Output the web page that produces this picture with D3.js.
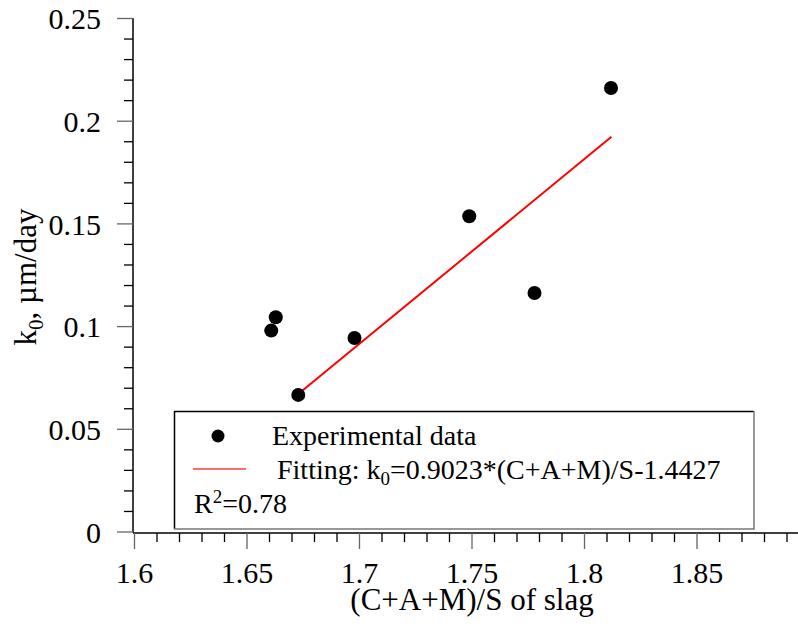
<!doctype html>
<html>
<head>
<meta charset="utf-8">
<script src="https://d3js.org/d3.v7.min.js"></script>
<style>
  body { margin: 0; background: #fff; }
</style>
</head>
<body>
<svg width="798" height="628" id="chart" font-family="Liberation Serif"></svg>
<script>
// measured points
var ratio = [1.661, 1.663, 1.673, 1.698, 1.749, 1.778, 1.812];
var k0    = [0.0978, 0.1043, 0.0665, 0.0942, 0.1535, 0.1161, 0.2159];

// fitted line end points
var fitRatio = [1.673, 1.8122];
var fitK0    = [0.0669, 0.1922];

// ticks
var xMajor = [1.6, 1.65, 1.7, 1.75, 1.8, 1.85];
var xLabels = ["1.6", "1.65", "1.7", "1.75", "1.8", "1.85"];
var yMajor = [0, 0.05, 0.1, 0.15, 0.2, 0.25];
var yLabels = ["0", "0.05", "0.1", "0.15", "0.2", "0.25"];

var serif = "Liberation Serif";

var svg = d3.select("#chart");

var xScale = d3.scaleLinear().domain([1.6, 1.9]).range([134, 809]),
    yScale = d3.scaleLinear().domain([0, 0.25]).range([531.5, 18]);

var xMinor = d3.range(1.61, 1.895, 0.01).filter(function (v) {
    return Math.abs(Math.round(v * 20) - v * 20) > 0.01;
});
var yMinor = d3.range(0.01, 0.25, 0.01).filter(function (v) {
    return Math.abs(Math.round(v * 20) - v * 20) > 0.01;
});

// Y axis
var yAxis = svg.append("g").attr("transform", "translate(133,0)");
yAxis.append("line")
    .attr("x1", 0).attr("x2", 0)
    .attr("y1", yScale(0.25)).attr("y2", yScale(0) + 1)
    .attr("stroke", "#000").attr("stroke-width", 1.5);
yAxis.append("g")
    .call(d3.axisLeft(yScale).tickValues(yMinor).tickSize(9).tickFormat(""))
    .call(function (g) { g.select(".domain").remove(); })
    .selectAll("line").attr("stroke", "#000").attr("stroke-width", 1.3);
var yMaj = yAxis.append("g")
    .call(d3.axisLeft(yScale).tickValues(yMajor).tickSize(16).tickPadding(16)
        .tickFormat(function (d, i) { return yLabels[i]; }))
    .call(function (g) { g.select(".domain").remove(); });
yMaj.attr("font-family", serif).attr("font-size", 30);
yMaj.selectAll("line").attr("stroke", "#666").attr("stroke-width", 1.3);
yMaj.selectAll("text")
    .attr("font-family", serif).attr("font-size", 30)
    .attr("dy", "0.36em");

// X axis
var xAxis = svg.append("g").attr("transform", "translate(0,533)");
xAxis.append("line")
    .attr("x1", 133).attr("x2", 798)
    .attr("y1", 0).attr("y2", 0)
    .attr("stroke", "#000").attr("stroke-width", 1.5);
xAxis.append("g")
    .call(d3.axisBottom(xScale).tickValues(xMinor).tickSize(9).tickFormat(""))
    .call(function (g) { g.select(".domain").remove(); })
    .selectAll("line").attr("stroke", "#000").attr("stroke-width", 1.3);
var xMaj = xAxis.append("g")
    .call(d3.axisBottom(xScale).tickValues(xMajor).tickSize(16).tickPadding(8)
        .tickFormat(function (d, i) { return xLabels[i]; }))
    .call(function (g) { g.select(".domain").remove(); });
xMaj.attr("font-family", serif).attr("font-size", 30);
xMaj.selectAll("line").attr("stroke", "#666").attr("stroke-width", 1.3);
xMaj.selectAll("text")
    .attr("font-family", serif).attr("font-size", 30)
    .attr("y", 50).attr("dy", 0);

// axis titles
svg.append("text")
    .attr("x", 472).attr("y", 610)
    .attr("text-anchor", "middle")
    .attr("font-family", serif)
    .attr("font-size", 31)
    .text("(C+A+M)/S of slag");

var yTitle = svg.append("text")
    .attr("text-anchor", "middle")
    .attr("transform", "translate(36,277)rotate(-90)")
    .attr("font-family", serif)
    .attr("font-size", 31);
yTitle.append("tspan").text("k");
yTitle.append("tspan").attr("dy", 7).attr("font-size", 21).text("0");
yTitle.append("tspan").attr("dy", -7).text(", \u00b5m/day");

// fitted line
var line = d3.line()
    .x(function (d) { return xScale(d[0]); })
    .y(function (d) { return yScale(d[1]); });
svg.append("path")
    .datum(d3.zip(fitRatio, fitK0))
    .attr("d", line)
    .attr("fill", "none")
    .attr("stroke", "#ff0000")
    .attr("stroke-width", 2);

// points
svg.append("g")
    .selectAll("circle")
    .data(d3.zip(ratio, k0))
    .enter()
    .append("circle")
    .attr("cx", function (d) { return xScale(d[0]); })
    .attr("cy", function (d) { return yScale(d[1]); })
    .attr("r", 7)
    .attr("fill", "#000");

// legend
var lg = svg.append("g").attr("font-family", serif);
lg.append("rect")
    .attr("x", 175).attr("y", 411)
    .attr("width", 579).attr("height", 118)
    .attr("fill", "#fff").attr("stroke", "none");
lg.append("path")
    .attr("d", "M174.5,529 V411.5 H754")
    .attr("fill", "none").attr("stroke", "#000").attr("stroke-width", 1.5);
lg.append("path")
    .attr("d", "M754,411 V529 H174")
    .attr("fill", "none").attr("stroke", "#777").attr("stroke-width", 1.5);

lg.append("circle").attr("cx", 218).attr("cy", 436).attr("r", 6.5).attr("fill", "#000");
lg.append("text").attr("x", 272).attr("y", 445).attr("font-size", 28).text("Experimental data");

lg.append("line")
    .attr("x1", 193).attr("x2", 246).attr("y1", 469).attr("y2", 469)
    .attr("stroke", "#ff6a6a").attr("stroke-width", 1.8);
var ft = lg.append("text").attr("x", 277).attr("y", 479).attr("font-size", 28);
ft.append("tspan").text("Fitting: k");
ft.append("tspan").attr("dy", 6).attr("font-size", 19).text("0");
ft.append("tspan").attr("dy", -6).text("=0.9023*(C+A+M)/S-1.4427");

var rt = lg.append("text").attr("x", 194).attr("y", 513).attr("font-size", 28);
rt.append("tspan").text("R");
rt.append("tspan").attr("dy", -10).attr("font-size", 19).text("2");
rt.append("tspan").attr("dy", 10).text("=0.78");
</script>
</body>
</html>
